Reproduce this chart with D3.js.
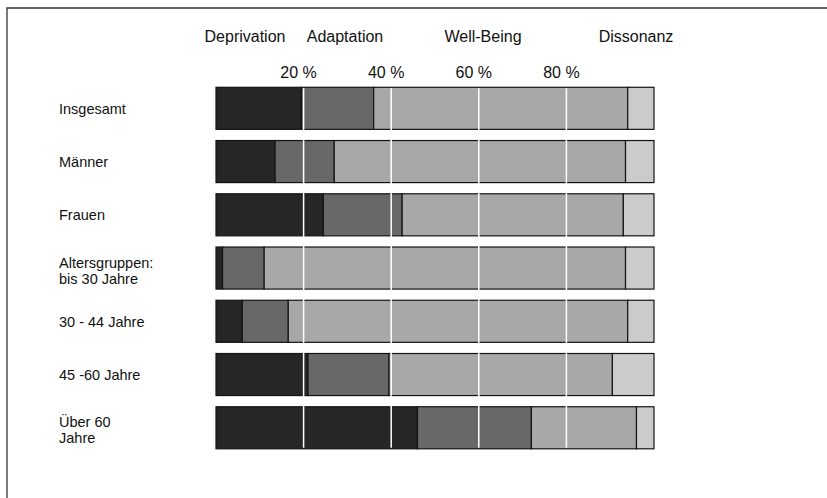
<!DOCTYPE html>
<html>
<head>
<meta charset="utf-8">
<script src="https://cdn.jsdelivr.net/npm/d3@7"></script>
<style>
  body { margin: 0; background: #fff; }
  svg { display: block; font-family: "Liberation Sans", Arial, sans-serif; }
</style>
</head>
<body>
<div id="chart"></div>
<script>
// data (percent of each group)
var categories = ["Insgesamt", "Männer", "Frauen", "Altersgruppen:\nbis 30 Jahre", "30 - 44 Jahre", "45 -60 Jahre", "Über 60\nJahre"];
var seriesNames = ["Deprivation", "Adaptation", "Well-Being", "Dissonanz"];
var deprivation = [19.5, 13.5, 24.5, 1.5, 6, 21, 46];
var adaptation  = [16.5, 13.5, 18, 9.5, 10.5, 18.5, 26];
var wellBeing   = [58, 66.5, 50.5, 82.5, 77.5, 51, 24];
var dissonanz   = [6, 6.5, 7, 6.5, 6, 9.5, 4];
var tickValues = [20, 40, 60, 80];
var tickLabels = ["20 %", "40 %", "60 %", "80 %"];

var width = 827, height = 498;
var colors = ["#262626", "#686868", "#a8a8a8", "#cbcbcb"];
var legendX = [245, 345, 483, 636];

var svg = d3.select("#chart").append("svg")
    .attr("width", width)
    .attr("height", height);

// frame of the scanned page
svg.append("path")
    .attr("d", "M7," + height + "V8H" + width)
    .attr("fill", "none")
    .attr("stroke", "#333")
    .attr("stroke-width", 1.3);

var x = d3.scaleLinear().domain([0, 100]).range([216, 654]);
var y = d3.scaleBand().domain(categories).range([81.7, 454.4])
    .paddingInner(0.21).paddingOuter(0.105);

var rows = categories.map(function (c, i) {
    return { cat: c, Deprivation: deprivation[i], Adaptation: adaptation[i], "Well-Being": wellBeing[i], Dissonanz: dissonanz[i] };
});
var stacked = d3.stack().keys(seriesNames)(rows);

svg.append("g")
    .selectAll("g")
    .data(stacked)
    .enter().append("g")
    .attr("fill", function (d, i) { return colors[i]; })
    .selectAll("rect")
    .data(function (d) { return d; })
    .enter().append("rect")
    .attr("x", function (d) { return x(d[0]); })
    .attr("y", function (d) { return y(d.data.cat); })
    .attr("width", function (d) { return x(d[1]) - x(d[0]); })
    .attr("height", y.bandwidth())
    .attr("stroke", "#141414")
    .attr("stroke-width", 1.2);

// white grid lines over the bars
svg.append("g")
    .selectAll("line")
    .data(tickValues)
    .enter().append("line")
    .attr("x1", function (d) { return x(d); })
    .attr("x2", function (d) { return x(d); })
    .attr("y1", y(categories[0]) + 1)
    .attr("y2", y(categories[categories.length - 1]) + y.bandwidth() - 1)
    .attr("stroke", "#fff")
    .attr("stroke-width", 1.5);

// percent labels
svg.append("g")
    .selectAll("text")
    .data(tickValues)
    .enter().append("text")
    .attr("x", function (d) { return x(d) - 5; })
    .attr("y", 78)
    .attr("text-anchor", "middle")
    .attr("font-size", 16)
    .attr("fill", "#111")
    .text(function (d, i) { return tickLabels[i]; });

// series names across the top
svg.append("g")
    .selectAll("text")
    .data(seriesNames)
    .enter().append("text")
    .attr("x", function (d, i) { return legendX[i]; })
    .attr("y", 42)
    .attr("text-anchor", "middle")
    .attr("font-size", 16)
    .attr("fill", "#111")
    .text(function (d) { return d; });

// row labels, one text per line
var lineGap = 16;
svg.append("g")
    .selectAll("g")
    .data(categories)
    .enter().append("g")
    .each(function (d) {
        var lines = d.split("\n");
        var base = y(d) + y.bandwidth() / 2 + 5.5 - (lines.length - 1) * (lineGap / 2) + (lines.length - 1) * 2;
        d3.select(this).selectAll("text")
            .data(lines)
            .enter().append("text")
            .attr("x", 59)
            .attr("y", function (t, i) { return base + i * lineGap; })
            .attr("font-size", 14.5)
            .attr("fill", "#111")
            .text(function (t) { return t; });
    });
</script>
</body>
</html>
